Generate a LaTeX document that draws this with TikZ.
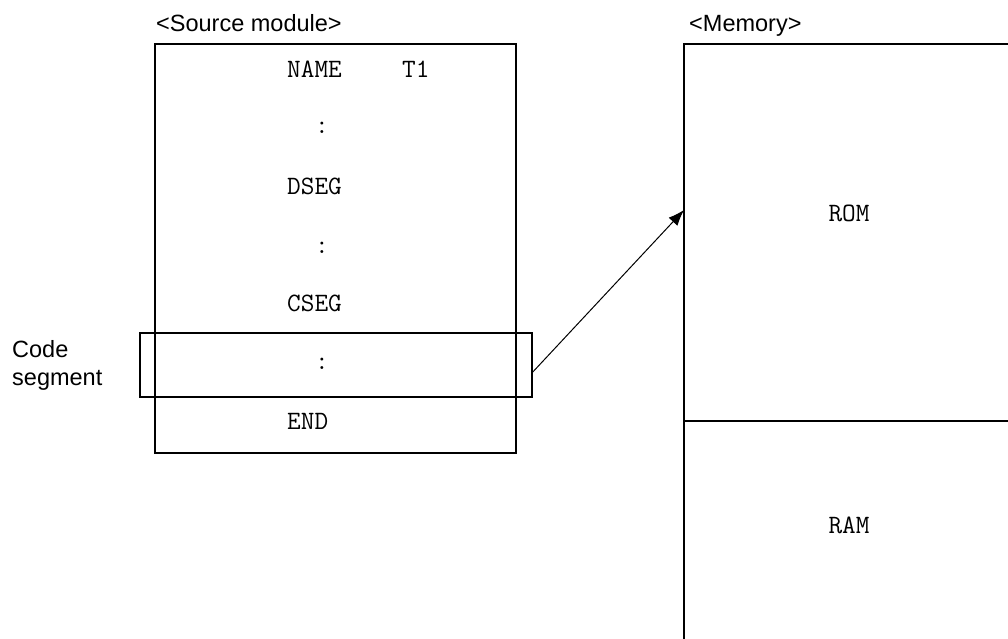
\documentclass[tikz,border=0pt]{standalone}
\usepackage{fontspec}
\setmainfont{Liberation Sans}
\newfontfamily\courfont{Latin Modern Mono}
\usetikzlibrary{arrows.meta,calc}
\tikzset{
  thickbox/.style={draw, line width=2.8pt, rectangle, inner sep=0pt},
  thinbox/.style={draw, line width=1.6pt, rectangle, inner sep=0pt},
  codetxt/.style={anchor=base west, inner sep=0pt, font=\courfont\fontsize{26.5}{30}\selectfont},
  memtxt/.style={anchor=base, inner sep=0pt, font=\courfont\fontsize{26.5}{30}\selectfont},
  lbl/.style={anchor=base west, inner sep=0pt, font=\fontsize{23.5}{28}\selectfont},
  conn/.style={line width=1pt, -{Latex[length=16pt,width=12pt]}}
}
\begin{document}
\begin{tikzpicture}[x=1pt,y=-1pt]
\clip (0,0) rectangle (1008,639);
\fill[white] (0,0) rectangle (1008,639);
% source module
\node[thickbox, minimum width=361pt, minimum height=409pt] (src) at (335.5,248.5) {};
\node[thinbox, minimum width=392pt, minimum height=64pt] (codeseg) at (336,365) {};
% memory
\node[thickbox, minimum width=346pt, minimum height=640pt] (mem) at (857,364) {};
\coordinate (divL) at (684,421);
\coordinate (divR) at (1030,421);
\draw[line width=2pt] (divL) -- (divR);
% code lines
\node[codetxt] (l1) at (287,77.5) {NAME};
\node[codetxt] (l1b) at (402,77.5) {T1};
\node[codetxt] (l2) at (315,134) {:};
\node[codetxt] (l3) at (287,194.5) {DSEG};
\node[codetxt] (l4) at (315,253) {:};
\node[codetxt] (l5) at (287,311.5) {CSEG};
\node[codetxt] (l6) at (315,369) {:};
\node[codetxt] (l7) at (287,429) {END};
% memory labels
\node[memtxt] (rom) at (849,221.5) {ROM};
\node[memtxt] (ram) at (849,533.5) {RAM};
% titles
\node[lbl] (srctitle) at (156,32) {<Source module>};
\node[lbl] (memtitle) at (689,32) {<Memory>};
\node[lbl] (code1) at (12,357) {Code};
\node[lbl] (code2) at (12,385) {segment};
% arrow
\coordinate (tip) at (684,210);
\draw[conn] ($(codeseg.east)+(0,7)$) -- (tip);
\end{tikzpicture}
\end{document}
